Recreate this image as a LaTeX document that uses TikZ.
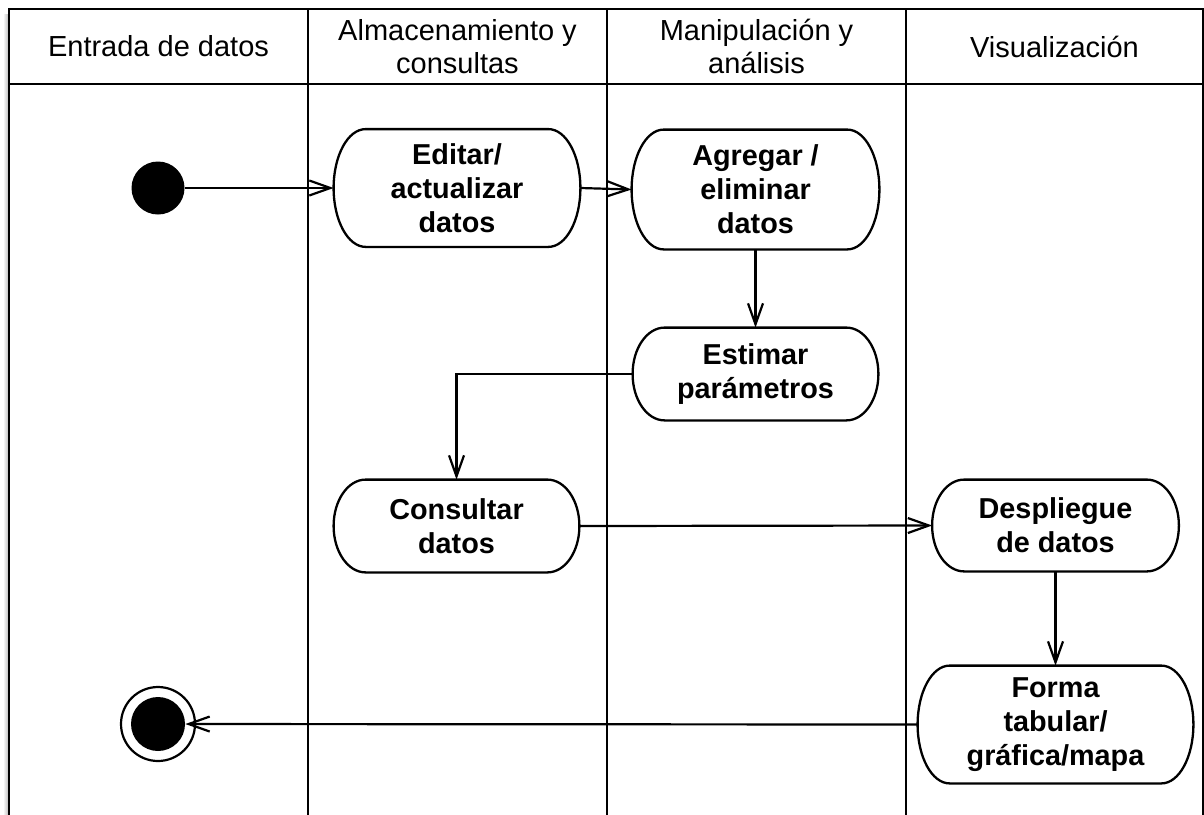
\documentclass[tikz,border=0pt]{standalone}
\usepackage{fontspec}
\setmainfont{Liberation Sans}
\usetikzlibrary{arrows.meta,calc}

\begin{document}
\begin{tikzpicture}[x=0.5pt,y=-0.5pt,
  lane/.style={line width=1.35pt, line cap=rect},
  head/.style={font=\fontsize{14.5}{16.5}\selectfont, align=center, inner sep=0pt},
  act/.style={font=\fontsize{14.4}{17}\selectfont\bfseries, align=center, inner sep=0pt, rectangle},
  outline/.style={line width=1.15pt},
  flow/.style={line width=1.1pt, -{Straight Barb[length=10.5pt,width=7.5pt,line width=1.1pt]}},
  startnode/.style={circle, fill=black, inner sep=0pt, minimum size=26.5pt},
  endring/.style={circle, draw, line width=1.1pt, fill=white, inner sep=0pt, minimum size=37pt},
  enddisk/.style={circle, fill=black, inner sep=0pt, minimum size=27pt}
]
\useasboundingbox (0,0) rectangle (1204,814);

% soft shadow along the left edge of the frame
\shade[left color=white, right color=black!25] (3,14) rectangle (8,814);

% swimlane frame
\draw[lane] (9,814) -- (9,9) -- (1203,9) -- (1203,814);
\draw[lane] (9,84) -- (1203,84);
\foreach \lx in {308,607,906} \draw[lane] (\lx,9) -- (\lx,814);

% lane titles
\node[head] (h1) at (158.5,46.5) {Entrada de datos};
\node[head] (h2) at (457.5,46.5) {Almacenamiento y\\consultas};
\node[head] (h3) at (756.5,46.5) {Manipulación y\\análisis};
\node[head] (h4) at (1054.5,46.5) {Visualización};

% start and end
\node[startnode] (init) at (158,188) {};
\node[endring] (finalring) at (158,724) {};
\node[enddisk] (final) at (158,724) {};

% activities
\node[act, minimum width=123pt, minimum height=58.5pt] (edit) at (457,188) {Editar/\\actualizar\\datos};
\node[act, minimum width=123.5pt, minimum height=59.5pt] (agreg) at (755.5,189.5) {Agregar /\\eliminar\\datos};
\node[act, minimum width=122.5pt, minimum height=46pt] (estim) at (755.5,374) {Estimar\\parámetros};
\node[act, minimum width=122.5pt, minimum height=46pt] (consul) at (456.5,526) {Consultar\\datos};
\node[act, minimum width=123pt, minimum height=45.5pt] (despl) at (1055.5,525.5) {Despliegue\\de datos};
\node[act, minimum width=137.5pt, minimum height=58.5pt] (forma) at (1055.5,724.5) {Forma\\tabular/\\gráfica/mapa};

% pill outlines with elliptical ends
\def\rr{16pt}
\foreach \nm in {edit,agreg,estim,consul,despl,forma}{
  \draw[outline] let \p1=(\nm.north), \p2=(\nm.south), \n1={(\y1-\y2)/2} in
    ([xshift=\rr]\nm.north west) -- ([xshift=-\rr]\nm.north east)
    arc[start angle=90, end angle=-90, x radius=\rr, y radius=\n1]
    -- ([xshift=\rr]\nm.south west)
    arc[start angle=270, end angle=90, x radius=\rr, y radius=\n1] -- cycle;
}

% control flow
\draw[flow] (init) -- (edit.west);
\draw[flow] (edit.east) -- (agreg.west);
\draw[flow] (agreg.south) -- (estim.north);
\draw[flow] (estim.west) -| (consul.north);
\draw[flow] (consul.east) -- (despl.west);
\draw[flow] (despl.south) -- (forma.north);
\draw[flow] (forma.west) -- (final);
\end{tikzpicture}
\end{document}
